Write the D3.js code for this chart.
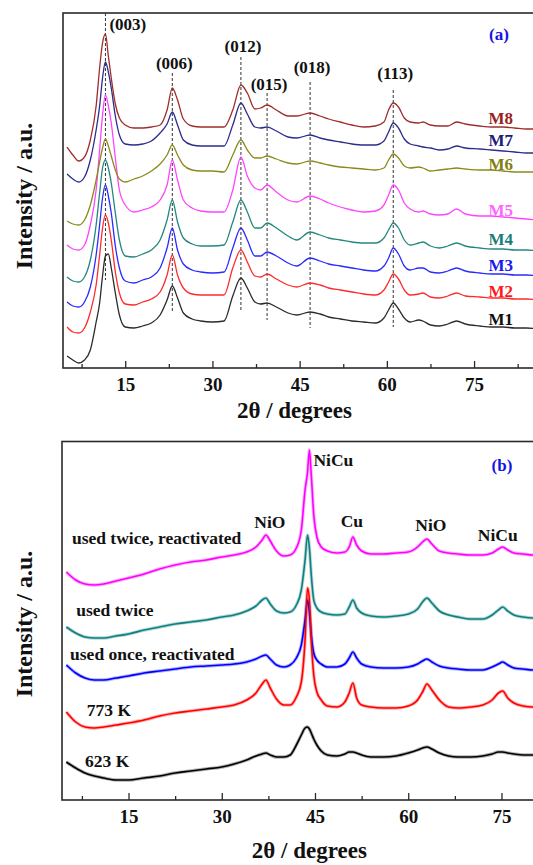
<!DOCTYPE html>
<html>
<head>
<meta charset="utf-8">
<script src="https://cdn.jsdelivr.net/npm/d3@7"></script>
<style>
  html, body { margin: 0; padding: 0; background: #fff; }
  svg { display: block; font-family: "Liberation Serif", "Times New Roman", serif; font-weight: bold; }
</style>
</head>
<body>
<svg id="chart" width="533" height="865"></svg>
<script>
// ---------- Panel (a): hydrotalcite precursors M1–M8 ----------
const angleA = [5,6,7,8,9,10,10.6,11.1,11.6,12.1,12.6,13.3,14,15,16.5,18,19.5,21,22.2,23.1,24,25,26.5,28,30,32,33.5,34.9,36,37.3,38.3,39.4,41,43,44.5,46.8,48.5,50,52,54,56,58,59.5,60.3,61.1,62,63,64,65.5,66.2,67.5,69,70.5,72,73.5,76,78,80,82,84,86];

const M1 = [12,8,5,8,18,46,65,92,112,114,100,75,53,41,40,42,45,53,68,82,70,55,49,47,46,47,72,90,80,66,64,65,61,55,53,56,54,51,49,47,46,45,50,58,65,59,50,46,48,47,43,42,44,47,44,42,41,41,40,40,39];
const M2 = [41,36,35,40,56,83,113,140,153,145,128,96,75,64,63,66,69,76,93,113,93,80,74,73,73,73,100,118,106,92,91,94,89,83,81,85,83,80,78,76,74,73,78,86,94,89,78,73,74,75,71,70,72,75,72,71,70,70,69,69,68];
const M3 = [66,62,61,66,81,113,143,170,183,172,155,122,100,87,85,88,91,100,120,140,118,104,98,96,95,96,120,140,128,112,112,116,112,105,102,110,107,104,102,100,98,97,102,110,120,114,102,98,100,100,96,95,97,100,97,95,94,94,93,93,92];
const M4 = [91,87,86,91,108,143,175,200,208,200,185,155,128,112,111,114,118,128,148,168,146,130,124,122,122,123,146,168,156,140,140,145,140,132,128,136,133,130,128,126,125,125,130,138,145,140,128,123,125,126,122,120,122,125,122,120,119,119,118,118,117];
const M5 = [123,119,118,123,143,178,218,253,273,262,245,210,178,163,156,158,161,168,183,208,188,168,160,157,156,156,178,211,192,180,178,183,176,168,166,172,169,165,161,158,156,157,163,173,183,178,165,159,156,157,154,153,154,159,154,152,152,151,150,149,148];
const M6 = [147,144,143,148,163,188,206,220,229,222,212,198,189,186,189,192,197,204,213,223,213,203,198,197,197,196,213,228,218,210,210,212,209,205,204,207,205,203,201,200,199,198,200,208,214,210,202,200,201,200,197,198,199,200,199,198,198,197,196,196,196];
const M7 = [194,189,186,191,208,238,262,290,306,296,280,252,233,224,223,224,227,235,244,256,243,228,223,222,222,222,243,265,254,241,240,241,237,231,230,233,230,228,226,224,223,223,227,236,245,240,229,224,222,221,220,218,219,222,220,219,218,217,216,215,215];
const M8 = [221,213,207,211,228,262,300,325,334,312,290,264,250,243,240,240,241,243,258,280,268,249,242,241,241,241,258,283,275,259,260,263,258,252,252,255,252,249,246,243,241,242,246,258,265,261,250,246,245,246,243,242,242,246,244,242,241,241,240,239,239];

const seriesNamesA = ["M1","M2","M3","M4","M5","M6","M7","M8"];
const seriesA = [M1, M2, M3, M4, M5, M6, M7, M8];
const lineColorsA = ["#2b2b2b","#ff2a2a","#2a2aff","#23877f","#ff44ff","#8a8a1c","#2c2c8c","#a02c2c"];
const labelColorsA = ["#111111","#ff1a1a","#1a1aee","#1a7f78","#ff66ff","#7f7f10","#1c1c78","#9a1f1f"];
const labelLevelA = [43, 71, 97, 123, 152, 198, 222, 244];

// reflection indices of the layered phase
const hklNames = ["(003)","(006)","(012)","(015)","(018)","(113)"];
const hklAngles = [11.6, 23.1, 34.9, 39.4, 46.8, 61.1];
const hklTop = [355, 295, 311, 275, 286, 278];
const hklBottom = [88, 55, 56, 48, 40, 41];
const hklLabelLevel = [338, 299, 316, 278, 295, 289];

// ---------- Panel (b): reduced / used catalysts ----------
const angleB = [5,6.5,8,9.5,11,13,15,17.5,20,22.5,25,27.5,30,32,34,35.5,36.5,37.1,37.8,38.8,40,41,42,42.8,43.4,43.8,44.1,44.4,44.8,45.3,46,47,48.5,49.8,50.5,51.1,51.7,52.5,54,56,58,60,61.5,62.3,63,63.8,65,66.5,68,70,72,73.5,74.5,75.2,76,77,78.5,80,81];

const K623 = [38,32,27,24,22,20,20,22,24,27,29,31,33,36,40,44,46,47,45,43,43,45,55,65,72,73,71,67,61,55,49,45,44,46,48,48,47,45,43,43,44,47,50,52,53,51,47,44,43,43,44,46,48,48,47,46,45,45,45];
const K773 = [88,78,73,72,73,75,77,80,84,87,89,91,93,95,100,107,116,120,112,101,95,95,103,118,160,212,200,160,125,108,100,94,93,98,107,117,102,95,93,92,92,94,100,108,116,110,100,93,92,93,95,100,107,109,102,97,94,93,93];
const onceReact = [135,127,122,120,120,122,124,127,129,131,133,134,135,136,138,141,144,145,141,135,133,135,142,155,180,200,188,165,147,140,136,133,133,136,142,148,142,136,133,132,132,133,136,139,141,138,134,132,131,130,130,133,136,138,135,132,131,130,130];
const twice = [173,167,163,162,162,164,166,170,173,176,178,180,183,185,189,194,200,202,196,189,187,188,195,210,240,265,252,225,200,192,188,186,185,186,193,200,192,187,184,183,184,186,191,198,202,197,189,185,183,181,181,185,190,193,189,185,183,182,182];
const twiceReact = [228,220,216,215,216,219,222,226,231,235,238,240,243,245,248,253,260,265,259,249,244,245,252,270,310,328,350,325,285,263,253,249,247,248,253,263,255,249,246,246,247,248,253,258,261,256,249,247,246,245,245,247,251,253,250,247,246,245,245];

const seriesNamesB = ["623 K","used once, reactivated","773 K","used twice","used twice, reactivated"];
const seriesB = [K623, onceReact, K773, twice, twiceReact];
const lineColorsB = ["#000000","#0000ff","#ff0000","#0f7f7f","#ff00ff"];
const labelAnglesB = [8.0, 5.6, 8.3, 6.6, 5.9];
const labelLevelB = [33, 140, 84, 184, 256];

const phaseNames = ["NiO","NiCu","Cu","NiO","NiCu"];
const phaseAngles = [37.1, 44.1, 51.1, 63.0, 75.2];
const phaseLevel = [272, 334, 273, 269, 259];
const phaseAnchor = ["middle","start","middle","middle","middle"];
const phaseShift = [4, 4, -1, 4, -5];

const majorTicks = [15, 30, 45, 60, 75];
const minorTicks = [7.5, 22.5, 37.5, 52.5, 67.5, 82.5];

// ---------- drawing ----------
const svg = d3.select("#chart");

function drawFrame(g, x, y, id) {
  const [x0, x1] = x.range();
  const [yb, yt] = y.range();
  g.append("clipPath").attr("id", id)
    .append("rect").attr("x", x0).attr("y", yt).attr("width", x1 - x0).attr("height", yb - yt);

  const major = d3.axisBottom(x).tickValues(majorTicks).tickFormat(d3.format("d"))
    .tickSizeInner(-7).tickSizeOuter(0).tickPadding(10);
  const minor = d3.axisBottom(x).tickValues(minorTicks).tickFormat("")
    .tickSizeInner(-4).tickSizeOuter(0);

  const gMinor = g.append("g").attr("transform", `translate(0,${yb})`).call(minor);
  const gMajor = g.append("g").attr("transform", `translate(0,${yb})`).call(major);
  [gMinor, gMajor].forEach(a => {
    a.select(".domain").remove();
    a.selectAll("line").attr("stroke", "#2a2a2a").attr("stroke-width", 1.3);
  });
  gMajor.selectAll("text")
    .attr("fill", "#111").style("font-size", "19px")
    .style("font-family", '"Liberation Serif", "Times New Roman", serif').style("font-weight", "bold");

  g.append("rect").attr("x", x0).attr("y", yt).attr("width", x1 - x0).attr("height", yb - yt)
    .attr("fill", "none").attr("stroke", "#2a2a2a").attr("stroke-width", 1.6);
}

function axisTitles(g, x, y, titleBaseline, yCenter) {
  g.append("text").attr("x", x(44.1)).attr("y", titleBaseline)
    .attr("text-anchor", "middle").attr("fill", "#111").style("font-size", "23px")
    .text("2θ / degrees");
  g.append("text").attr("transform", `translate(32,${yCenter}) rotate(-90)`)
    .attr("text-anchor", "middle").attr("fill", "#111").style("font-size", "24px")
    .text("Intensity / a.u.");
}

// Panel (a)
{
  const x = d3.scaleLinear().domain([4.3, 87.2]).range([63, 545]);
  const y = d3.scaleLinear().domain([0, 355]).range([368, 13]);
  const g = svg.append("g");
  drawFrame(g, x, y, "clipA");

  const plot = g.append("g").attr("clip-path", "url(#clipA)");

  // reflection markers
  plot.selectAll("line.hkl").data(hklAngles).join("line").attr("class", "hkl")
    .attr("x1", d => x(d)).attr("x2", d => x(d))
    .attr("y1", (d, i) => y(hklTop[i])).attr("y2", (d, i) => y(hklBottom[i]))
    .attr("stroke", "#333").attr("stroke-width", 1).attr("stroke-dasharray", "3,2");

  const line = d3.line().x((d, i) => x(angleA[i])).y(d => y(d)).curve(d3.curveMonotoneX);
  plot.selectAll("path.pattern").data(seriesA).join("path").attr("class", "pattern")
    .attr("d", line).attr("fill", "none")
    .attr("stroke", (d, i) => lineColorsA[i]).attr("stroke-width", 1.3)
    .attr("stroke-linejoin", "round");

  g.selectAll("text.hkl").data(hklNames).join("text").attr("class", "hkl")
    .attr("x", (d, i) => i === 0 ? x(hklAngles[i]) + 4 : x(hklAngles[i]) + 2)
    .attr("y", (d, i) => y(hklLabelLevel[i]))
    .attr("text-anchor", (d, i) => i === 0 ? "start" : "middle")
    .attr("fill", "#111").style("font-size", "17px").text(d => d);

  g.selectAll("text.series").data(seriesNamesA).join("text").attr("class", "series")
    .attr("x", 513).attr("y", (d, i) => y(labelLevelA[i]))
    .attr("text-anchor", "end").attr("fill", (d, i) => labelColorsA[i])
    .style("font-size", "17px").text(d => d);

  g.append("text").attr("x", 499).attr("y", 40).attr("text-anchor", "middle")
    .attr("fill", "#1414e6").style("font-size", "17px").text("(a)");

  axisTitles(g, x, y, 418, 196);
}

// Panel (b)
{
  const x = d3.scaleLinear().domain([4.3, 82]).range([62, 545]);
  const y = d3.scaleLinear().domain([0, 358.5]).range([800, 441.5]);
  const g = svg.append("g");
  drawFrame(g, x, y, "clipB");

  const plot = g.append("g").attr("clip-path", "url(#clipB)");
  const line = d3.line().x((d, i) => x(angleB[i])).y(d => y(d)).curve(d3.curveMonotoneX);

  // soft band under each trace for the counting noise of the scans
  plot.selectAll("path.band").data(seriesB).join("path").attr("class", "band")
    .attr("d", line).attr("fill", "none")
    .attr("stroke", (d, i) => lineColorsB[i]).attr("stroke-width", 3.4)
    .attr("stroke-opacity", 0.3).attr("stroke-linejoin", "round");
  plot.selectAll("path.pattern").data(seriesB).join("path").attr("class", "pattern")
    .attr("d", line).attr("fill", "none")
    .attr("stroke", (d, i) => lineColorsB[i]).attr("stroke-width", 1.6)
    .attr("stroke-linejoin", "round");

  g.selectAll("text.series").data(seriesNamesB).join("text").attr("class", "series")
    .attr("x", (d, i) => x(labelAnglesB[i])).attr("y", (d, i) => y(labelLevelB[i]))
    .attr("text-anchor", "start").attr("fill", "#111")
    .style("font-size", "17.5px").text(d => d);

  g.selectAll("text.phase").data(phaseNames).join("text").attr("class", "phase")
    .attr("x", (d, i) => x(phaseAngles[i]) + phaseShift[i]).attr("y", (d, i) => y(phaseLevel[i]))
    .attr("text-anchor", (d, i) => phaseAnchor[i]).attr("fill", "#111")
    .style("font-size", "17.5px").text(d => d);

  g.append("text").attr("x", 502).attr("y", 471).attr("text-anchor", "middle")
    .attr("fill", "#1414e6").style("font-size", "17px").text("(b)");

  axisTitles(g, x, y, 858, 624);
}
</script>
</body>
</html>
